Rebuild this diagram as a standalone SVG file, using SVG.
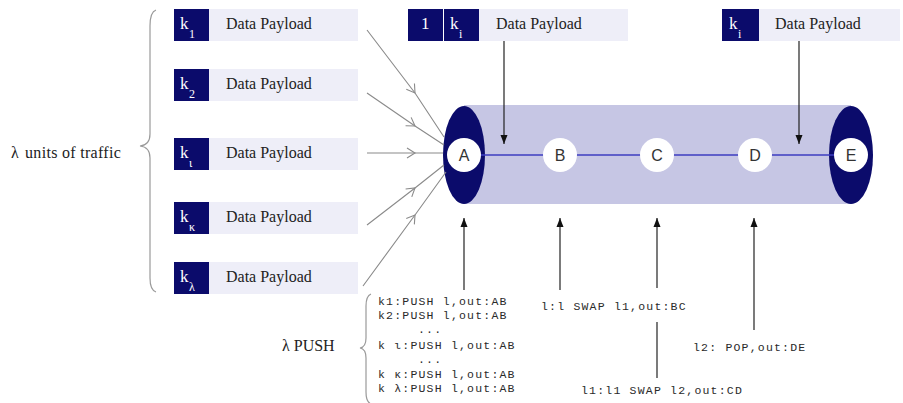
<svg xmlns="http://www.w3.org/2000/svg" width="903" height="403" viewBox="0 0 903 403">
  <style>
    .key { fill: #0b0b6b; }
    .payload { fill: #eeeef8; }
    .serif { font-family: "Liberation Serif", "Times New Roman", serif; }
    .ptext { font-size: 16px; fill: #222; }
    .klabel { font-size: 17px; fill: #fff; }
    .ksub { font-size: 12px; fill: #fff; }
    .mono { font-family: "Liberation Mono", "Courier New", monospace; font-size: 11.5px; letter-spacing: 1.2px; fill: #2a2a2a; }
    .nodec { fill: #fff; }
    .nodet { font-family: "Liberation Sans", Arial, sans-serif; font-size: 16px; fill: #333; text-anchor: middle; }
    .feed { stroke: #8a8a8a; stroke-width: 1.1; fill: none; }
    .arr { stroke: #222; stroke-width: 1.2; fill: none; }
    .brace { stroke: #9a9a9a; stroke-width: 1.2; fill: none; }
  </style>
  <defs>
    <marker id="chev" viewBox="-10 -6 12 12" markerWidth="12" markerHeight="12" refX="0" refY="0" orient="auto" markerUnits="userSpaceOnUse">
      <path d="M -8 -5 L 0 0 L -8 5" fill="none" stroke="#8a8a8a" stroke-width="1.1"/>
    </marker>
    <marker id="head" viewBox="0 -4 9 8" markerWidth="9" markerHeight="8" refX="9" refY="0" orient="auto" markerUnits="userSpaceOnUse">
      <path d="M 0 -3.5 L 9 0 L 0 3.5 Z" fill="#111"/>
    </marker>
  </defs>

  <!-- tunnel body -->
  <g id="tunnel">
    <rect x="464" y="105" width="387" height="99" fill="#c6c6e4"/>
    <ellipse cx="464" cy="155" rx="21" ry="49" class="key"/>
    <ellipse cx="851" cy="155" rx="22" ry="49" class="key"/>
  </g>

  <!-- connectors -->
  <g id="connectors">
    <!-- label switched path -->
    <line x1="464" y1="155" x2="851" y2="155" stroke="#3c3cc0" stroke-width="1.3"/>
    <!-- incoming traffic -->
    <path class="feed" d="M 367 30 L 415 93 L 444 137" marker-mid="url(#chev)"/>
    <path class="feed" d="M 367 93 L 415 126 L 444 145" marker-mid="url(#chev)"/>
    <path class="feed" d="M 367 153 L 415 153 L 443 153" marker-mid="url(#chev)"/>
    <path class="feed" d="M 367 225 L 415 188 L 444 165" marker-mid="url(#chev)"/>
    <path class="feed" d="M 363 286 L 415 215 L 446 172" marker-mid="url(#chev)"/>
    <!-- packets entering/leaving the tunnel -->
    <line class="arr" x1="504" y1="41" x2="504" y2="144" marker-end="url(#head)"/>
    <line class="arr" x1="799" y1="41" x2="799" y2="144" marker-end="url(#head)"/>
    <!-- label operations -->
    <line class="arr" x1="464" y1="290" x2="464" y2="218" marker-end="url(#head)"/>
    <line class="arr" x1="560" y1="290" x2="560" y2="218" marker-end="url(#head)"/>
    <line class="arr" x1="657" y1="288" x2="657" y2="218" marker-end="url(#head)"/>
    <line class="arr" x1="657" y1="322" x2="657" y2="378"/>
    <line class="arr" x1="754" y1="330" x2="754" y2="218" marker-end="url(#head)"/>
  </g>

  <!-- nodes -->
  <g id="node-A"><circle class="nodec" cx="464" cy="155" r="17"/><text class="nodet" x="464" y="161">A</text></g>
  <g id="node-B"><circle class="nodec" cx="560" cy="155" r="17"/><text class="nodet" x="560" y="161">B</text></g>
  <g id="node-C"><circle class="nodec" cx="657" cy="155" r="17"/><text class="nodet" x="657" y="161">C</text></g>
  <g id="node-D"><circle class="nodec" cx="755" cy="155" r="17"/><text class="nodet" x="755" y="161">D</text></g>
  <g id="node-E"><circle class="nodec" cx="851" cy="155" r="17"/><text class="nodet" x="851" y="161">E</text></g>

  <!-- incoming packets -->
  <g id="packet-k1">
    <rect class="payload" x="209" y="9" width="149" height="32"/>
    <rect class="key" x="174" y="9" width="35" height="32"/>
    <text class="serif klabel" x="180" y="29">k</text><text class="serif ksub" x="189" y="38">1</text>
    <text class="serif ptext" x="226" y="29">Data Payload</text>
  </g>
  <g id="packet-k2">
    <rect class="payload" x="209" y="69" width="149" height="32"/>
    <rect class="key" x="174" y="69" width="35" height="32"/>
    <text class="serif klabel" x="180" y="89">k</text><text class="serif ksub" x="189" y="98">2</text>
    <text class="serif ptext" x="226" y="89">Data Payload</text>
  </g>
  <g id="packet-kiota">
    <rect class="payload" x="209" y="138" width="149" height="32"/>
    <rect class="key" x="174" y="138" width="35" height="32"/>
    <text class="serif klabel" x="180" y="158">k</text><text class="serif ksub" x="189" y="167">ι</text>
    <text class="serif ptext" x="226" y="158">Data Payload</text>
  </g>
  <g id="packet-kkappa">
    <rect class="payload" x="209" y="202" width="149" height="32"/>
    <rect class="key" x="174" y="202" width="35" height="32"/>
    <text class="serif klabel" x="180" y="222">k</text><text class="serif ksub" x="189" y="231">κ</text>
    <text class="serif ptext" x="226" y="222">Data Payload</text>
  </g>
  <g id="packet-klambda">
    <rect class="payload" x="209" y="262" width="149" height="32"/>
    <rect class="key" x="174" y="262" width="35" height="32"/>
    <text class="serif klabel" x="180" y="282">k</text><text class="serif ksub" x="189" y="291">λ</text>
    <text class="serif ptext" x="226" y="282">Data Payload</text>
  </g>

  <!-- labelled packet inside the tunnel -->
  <g id="packet-labelled">
    <rect class="payload" x="479" y="9" width="149" height="32"/>
    <rect class="key" x="408" y="9" width="35" height="32"/>
    <rect class="key" x="444" y="9" width="35" height="32"/>
    <text class="serif klabel" x="421" y="29">1</text>
    <text class="serif klabel" x="450" y="29">k</text><text class="serif ksub" x="459" y="38">i</text>
    <text class="serif ptext" x="496" y="29">Data Payload</text>
  </g>

  <!-- packet leaving the tunnel -->
  <g id="packet-out">
    <rect class="payload" x="759" y="9" width="141" height="32"/>
    <rect class="key" x="722" y="9" width="37" height="32"/>
    <text class="serif klabel" x="729" y="29">k</text><text class="serif ksub" x="738" y="38">i</text>
    <text class="serif ptext" x="775" y="29">Data Payload</text>
  </g>

  <!-- traffic brace -->
  <g id="traffic">
    <path class="brace" d="M 156 10 Q 150 12 150 26 L 150 134 Q 150 145 140 146 Q 150 147 150 158 L 150 278 Q 150 290 156 292"/>
    <text class="serif ptext" x="11" y="158" letter-spacing="0.3">λ<tspan dx="6">units of traffic</tspan></text>
  </g>

  <!-- push operations at ingress -->
  <g id="push-ops">
    <path class="brace" d="M 371 294 Q 366 296 366 306 L 366 338 Q 366 347 360 348 Q 366 349 366 358 L 366 392 Q 366 402 371 404"/>
    <text class="serif ptext" x="282" y="351">λ PUSH</text>
    <text class="mono">
      <tspan x="378" y="305">k1:PUSH l,out:AB</tspan>
      <tspan x="378" y="319">k2:PUSH l,out:AB</tspan>
      <tspan x="418" y="333">...</tspan>
      <tspan x="378" y="349">k ι:PUSH l,out:AB</tspan>
      <tspan x="418" y="363">...</tspan>
      <tspan x="378" y="378">k κ:PUSH l,out:AB</tspan>
      <tspan x="378" y="392">k λ:PUSH l,out:AB</tspan>
    </text>
  </g>

  <!-- transit and egress operations -->
  <g id="swap-B"><text class="mono" x="541" y="310">l:l SWAP l1,out:BC</text></g>
  <g id="swap-C"><text class="mono" x="581" y="394">l1:l1 SWAP l2,out:CD</text></g>
  <g id="pop-D"><text class="mono" x="693" y="351">l2: POP,out:DE</text></g>
</svg>
